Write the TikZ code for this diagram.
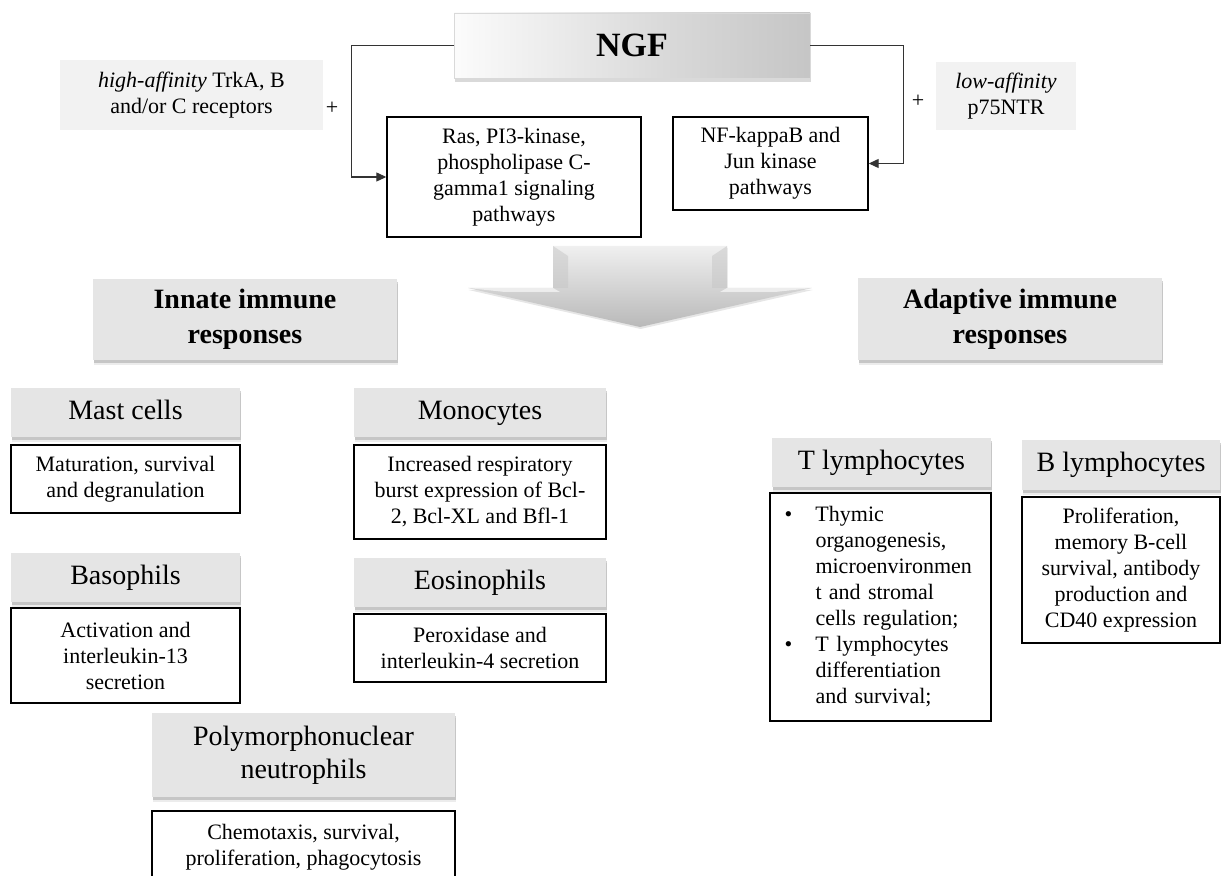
\documentclass[tikz,border=0pt]{standalone}
\usepackage{fontspec}
\setmainfont{Liberation Serif}
\usetikzlibrary{arrows.meta,shadows}

\pgfdeclarehorizontalshading{ngfshade}{100bp}{color(0bp)=(gray!25); color(4bp)=(white); color(22bp)=(white);
  color(55bp)=(gray!30); color(75bp)=(gray!45); color(93bp)=(white); color(100bp)=(white)}

\tikzset{
  box/.style={draw, line width=0.7pt, fill=white, align=center, inner sep=0pt,
    font=\fontsize{11}{13}\selectfont},
  head/.style={fill=gray!20, align=center, inner sep=0pt,
    font=\fontsize{14}{16.5}\selectfont,
    drop shadow={shadow xshift=0.4pt, shadow yshift=-2.6pt, opacity=0.15},
    drop shadow={shadow xshift=0.3pt, shadow yshift=-1.6pt, opacity=0.35}},
  cellhead/.style={head, text height=10pt, text depth=3pt},
  bighead/.style={head, font=\fontsize{14}{17.5}\selectfont\bfseries},
  recep/.style={fill=black!5, align=center, inner sep=0pt,
    font=\fontsize{11}{13}\selectfont},
  ngfbox/.style={draw=gray!30, fill=white, inner sep=0pt,
    font=\fontsize{17}{20}\selectfont\bfseries,
    drop shadow={shadow xshift=0.3pt, shadow yshift=-1.8pt, opacity=0.3},
    path picture={
      \shade[shading=ngfshade] (path picture bounding box.south west) rectangle (path picture bounding box.north east);
    }},
  conn/.style={draw=black!80, line width=0.6pt, -{Triangle[length=5pt,width=4.5pt]}},
}

\begin{document}
\begin{tikzpicture}[x=0.5pt, y=-0.5pt]
    \useasboundingbox (0,0) rectangle (1221,876);

    % 受容体
    \node[recep, minimum width=131.5pt, minimum height=35pt] (High) at (191.5,95) {\textit{high-affinity} TrkA, B\\and/or C receptors};
    \node[recep, minimum width=70pt, minimum height=34pt] (Low) at (1006,96) {\textit{low-affinity}\\p75NTR};
    \node[font=\fontsize{11}{13}\selectfont] (PlusL) at (332,108) {+};
    \node[font=\fontsize{11}{13}\selectfont] (PlusR) at (918,101) {+};

    % NGF と経路
    \node[ngfbox, minimum width=178pt, minimum height=32.5pt] (NGF) at (632,45.5) {NGF};
    \node[box, minimum width=127pt, minimum height=60pt] (Ras) at (514,177) {Ras, PI3-kinase,\\phospholipase C-\\gamma1 signaling\\pathways};
    \node[box, minimum width=97.5pt, minimum height=46.5pt] (NFkB) at (770.5,163.5) {NF-kappaB and\\Jun kinase\\pathways};

    % エッジ
    \draw[conn] (NGF.west) -| ([xshift=-17.5pt]Ras.west) -- (Ras.west);
    \draw[conn] (NGF.east) -| ([xshift=17.5pt]NFkB.east) -- (NFkB.east);

    % 矢印
    \shade[top color=gray!12, bottom color=gray!55,
      drop shadow={shadow xshift=0.3pt, shadow yshift=-1pt, opacity=0.2}]
      (553,246) -- (727,246) -- (727,288) -- (812,288) -- (640,327) -- (468,288) -- (553,288) -- cycle;
    \fill[white, opacity=0.6] (468,288) -- (553,288) -- (560,292) -- (505,292) -- cycle;
    \fill[white, opacity=0.6] (812,288) -- (727,288) -- (720,292) -- (775,292) -- cycle;
    \fill[gray!45, opacity=0.5] (553,246) -- (568,256) -- (568,288) -- (553,288) -- cycle;
    \fill[gray!45, opacity=0.5] (727,246) -- (712,256) -- (712,288) -- (727,288) -- cycle;

    % 自然免疫
    \node[bighead, minimum width=152pt, minimum height=40.5pt] (Innate) at (245,319.5) {Innate immune\\responses};
    \node[cellhead, minimum width=114.5pt, minimum height=24.5pt] (Mast) at (125.5,412.5) {Mast cells};
    \node[box, minimum width=114.5pt, minimum height=34pt] (MastD) at (125.5,479) {Maturation, survival\\and degranulation};
    \node[cellhead, minimum width=126pt, minimum height=24.5pt] (Mono) at (480,412.5) {Monocytes};
    \node[box, minimum width=126pt, minimum height=47pt] (MonoD) at (480,492) {Increased respiratory\\burst expression of Bcl-\\2, Bcl-XL and Bfl-1};
    \node[cellhead, minimum width=114.5pt, minimum height=24.5pt] (Baso) at (125.5,577.5) {Basophils};
    \node[box, minimum width=114.5pt, minimum height=47.5pt] (BasoD) at (125.5,655.5) {Activation and\\interleukin-13\\secretion};
    \node[cellhead, minimum width=126pt, minimum height=24.5pt] (Eos) at (480,582.5) {Eosinophils};
    \node[box, minimum width=126pt, minimum height=34pt] (EosD) at (480,648) {Peroxidase and\\interleukin-4 secretion};
    \node[head, minimum width=151.5pt, minimum height=42pt] (PMN) at (303.5,755) {Polymorphonuclear\\neutrophils};
    \node[box, minimum width=151.5pt, minimum height=36.5pt] (PMND) at (303.5,847.5) {Chemotaxis, survival,\\proliferation, phagocytosis};

    % 獲得免疫
    \node[bighead, minimum width=152pt, minimum height=41pt] (Adaptive) at (1010,319) {Adaptive immune\\responses};
    \node[cellhead, minimum width=109.5pt, minimum height=24.5pt] (Tly) at (881.5,462.5) {T lymphocytes};
    \node[box, minimum width=110.5pt, minimum height=114pt, text width=96pt, align=left] (TlyD) at (880.5,607)
      {\makebox[15.5pt][l]{\textbullet}Thymic\\
       \hspace*{15.5pt}organogenesis,\\
       \hspace*{15.5pt}microenvironmen\\
       \hspace*{15.5pt}t and stromal\\
       \hspace*{15.5pt}cells regulation;\\
       \makebox[15.5pt][l]{\textbullet}T lymphocytes\\
       \hspace*{15.5pt}differentiation\\
       \hspace*{15.5pt}and survival;};
    \node[cellhead, minimum width=99pt, minimum height=25pt] (Bly) at (1121,465) {B lymphocytes};
    \node[box, minimum width=99pt, minimum height=73pt] (BlyD) at (1121,570) {Proliferation,\\memory B-cell\\survival, antibody\\production and\\CD40 expression};
\end{tikzpicture}
\end{document}
